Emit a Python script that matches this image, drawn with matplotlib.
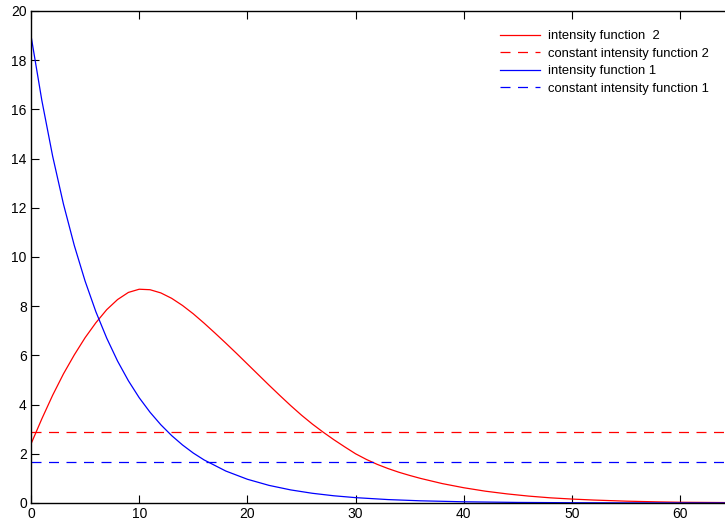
import matplotlib
matplotlib.use("Agg")
import matplotlib.pyplot as plt

# values
x1 = [0, 1, 2, 3, 4, 5, 6, 7, 8, 9, 10, 11, 12, 13, 14, 15, 16, 18, 20, 22, 24, 26, 28,
      30, 33, 36, 40, 45, 50, 55, 60, 65]
intensity1 = [19.00, 16.37, 14.10, 12.15, 10.47, 9.02, 7.77, 6.70, 5.77, 4.97, 4.28, 3.69,
              3.18, 2.74, 2.36, 2.03, 1.75, 1.30, 0.965, 0.716, 0.532, 0.395, 0.293,
              0.218, 0.139, 0.089, 0.049, 0.023, 0.011, 0.005, 0.0025, 0.001]

x2 = [0, 1, 2, 3, 4, 5, 6, 7, 8, 9, 10, 11, 12, 13, 14, 15, 16, 17, 18, 19, 20, 21, 22,
      23, 24, 25, 26, 27, 28, 29, 30, 31, 32, 33, 34, 35, 36, 38, 40, 42, 44, 46, 48,
      50, 52, 55, 58, 60, 65]
intensity2 = [2.40, 3.42, 4.38, 5.25, 6.02, 6.72, 7.33, 7.86, 8.27, 8.56, 8.69, 8.67,
              8.54, 8.32, 8.03, 7.69, 7.31, 6.91, 6.50, 6.08, 5.65, 5.22, 4.79, 4.37,
              3.96, 3.57, 3.21, 2.88, 2.57, 2.28, 2.00, 1.77, 1.57, 1.40, 1.25, 1.12,
              1.00, 0.79, 0.62, 0.48, 0.37, 0.28, 0.21, 0.16, 0.12, 0.075, 0.045,
              0.03, 0.015]

const1 = 1.65
const2 = 2.87

labels = ["intensity function  2", "constant intensity function 2",
          "intensity function 1", "constant intensity function 1"]

plt.rcParams['font.family'] = ['Liberation Sans', 'DejaVu Sans']

W, H = 725, 521
fig = plt.figure(figsize=(W / 100, H / 100), dpi=100)
ax = fig.add_axes([31 / W, (H - 503) / H, 1 - 31 / W, (503 - 11) / H])

xmax = (W - 31) / 10.82
dash = (0, (8, 6))
ax.plot(x2, intensity2, color='r', lw=0.9, label=labels[0])
ax.plot([0, xmax], [const2, const2], color='r', lw=0.9, linestyle=dash, label=labels[1])
ax.plot(x1, intensity1, color='b', lw=0.9, label=labels[2])
ax.plot([0, xmax], [const1, const1], color='b', lw=0.9, linestyle=dash, label=labels[3])

ax.set_xlim(0, xmax)
ax.set_ylim(0, 20)
ax.set_xticks(range(0, 61, 10))
ax.set_yticks(range(0, 21, 2))
ax.tick_params(direction='in', length=6, width=0.8, labelsize=10, top=True,
               pad=3, colors='black')
ax.spines['right'].set_visible(False)
for s in ['left', 'top', 'bottom']:
    ax.spines[s].set_linewidth(1.0)

leg = ax.legend(loc='upper left', bbox_to_anchor=(500 / W, 1 - 30 / H),
                bbox_transform=fig.transFigure, frameon=False, fontsize=9.4,
                handlelength=3.1, handletextpad=0.55, borderpad=0,
                borderaxespad=0, labelspacing=0.41)

fig.savefig("out.png", dpi=100)
